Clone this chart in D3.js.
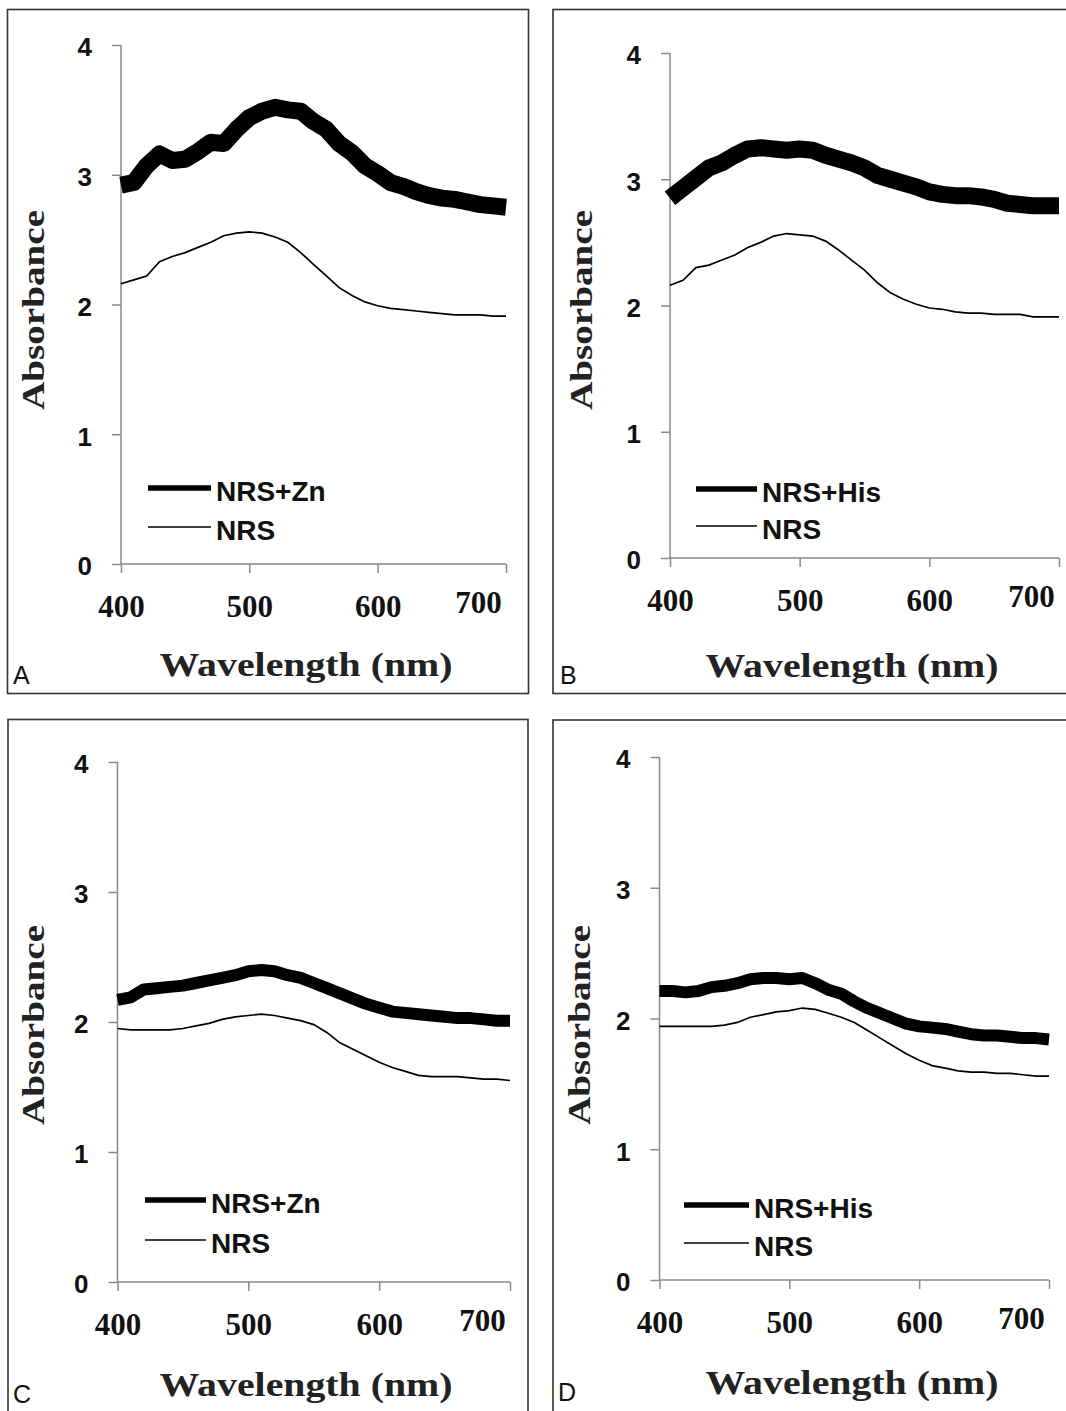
<!DOCTYPE html>
<html>
<head>
<meta charset="utf-8">
<script src="https://cdn.jsdelivr.net/npm/d3@7"></script>
<style>
  body { margin: 0; background: #fff; }
  svg { display: block; }
</style>
</head>
<body>
<script>
// wavelengths (nm) shared by every spectrum
var wavelengths = [400, 410, 420, 430, 440, 450, 460, 470, 480, 490, 500,
                   510, 520, 530, 540, 550, 560, 570, 580, 590, 600,
                   610, 620, 630, 640, 650, 660, 670, 680, 690, 700];
var xTicks = [400, 500, 600, 700];
var yTicks = [0, 1, 2, 3, 4];

// panel A: NRS + Zn vs NRS
var zincA = [2.92, 2.94, 3.07, 3.16, 3.11, 3.12, 3.18, 3.25, 3.24, 3.35, 3.44,
             3.49, 3.52, 3.50, 3.49, 3.41, 3.35, 3.24, 3.17, 3.07, 3.01,
             2.94, 2.91, 2.87, 2.84, 2.82, 2.81, 2.79, 2.77, 2.76, 2.75];
var nrsA = [2.16, 2.19, 2.22, 2.33, 2.37, 2.40, 2.44, 2.48, 2.53, 2.55, 2.56,
            2.55, 2.52, 2.48, 2.40, 2.31, 2.22, 2.13, 2.07, 2.02, 1.99,
            1.97, 1.96, 1.95, 1.94, 1.93, 1.92, 1.92, 1.92, 1.91, 1.91];

// panel B: NRS + His vs NRS
var hisB = [2.85, 2.93, 3.01, 3.09, 3.13, 3.19, 3.24, 3.25, 3.24, 3.23, 3.24,
            3.23, 3.19, 3.16, 3.13, 3.09, 3.03, 3.00, 2.97, 2.94, 2.90,
            2.88, 2.87, 2.87, 2.86, 2.84, 2.81, 2.80, 2.79, 2.79, 2.79];
var nrsB = [2.16, 2.20, 2.30, 2.32, 2.36, 2.40, 2.46, 2.50, 2.55, 2.57, 2.56,
            2.55, 2.51, 2.44, 2.36, 2.28, 2.18, 2.10, 2.05, 2.01, 1.98,
            1.97, 1.95, 1.94, 1.94, 1.93, 1.93, 1.93, 1.91, 1.91, 1.91];

// panel C: NRS + Zn vs NRS
var zincC = [2.17, 2.19, 2.25, 2.26, 2.27, 2.28, 2.30, 2.32, 2.34, 2.36, 2.39,
             2.40, 2.39, 2.36, 2.34, 2.30, 2.26, 2.22, 2.18, 2.14, 2.11,
             2.08, 2.07, 2.06, 2.05, 2.04, 2.03, 2.03, 2.02, 2.01, 2.01];
var nrsC = [1.95, 1.94, 1.94, 1.94, 1.94, 1.95, 1.97, 1.99, 2.02, 2.04, 2.05,
            2.06, 2.05, 2.03, 2.01, 1.98, 1.92, 1.84, 1.79, 1.74, 1.69,
            1.65, 1.62, 1.59, 1.58, 1.58, 1.58, 1.57, 1.56, 1.56, 1.55];

// panel D: NRS + His vs NRS
var hisD = [2.21, 2.21, 2.20, 2.21, 2.24, 2.25, 2.27, 2.30, 2.31, 2.31, 2.30,
            2.31, 2.27, 2.22, 2.19, 2.13, 2.08, 2.04, 2.00, 1.96, 1.94,
            1.93, 1.92, 1.90, 1.88, 1.87, 1.87, 1.86, 1.85, 1.85, 1.84];
var nrsD = [1.94, 1.94, 1.94, 1.94, 1.94, 1.95, 1.97, 2.01, 2.03, 2.05, 2.06,
            2.08, 2.07, 2.04, 2.01, 1.97, 1.91, 1.85, 1.79, 1.73, 1.68,
            1.64, 1.62, 1.60, 1.59, 1.59, 1.58, 1.58, 1.57, 1.56, 1.56];

var panelLetters = ["A", "B", "C", "D"];
var treatedNames = ["NRS+Zn", "NRS+His", "NRS+Zn", "NRS+His"];
var controlName = "NRS";
var xTitle = "Wavelength (nm)";
var yTitle = "Absorbance";

// layout of the four boxes (pixel positions only)
var layout = [
    { frame: [7.5, 9.5, 521, 684], plot: [121, 506, 45, 564], xt: [306, 676], yt: [44, 310],
      leg: [148, 211, 488, 527], letter: [13, 684], thick: 17, treated: zincA, control: nrsA },
    { frame: [553, 9.5, 520, 684], plot: [670, 1059, 53, 558], xt: [852, 677], yt: [592, 310],
      leg: [696, 757, 489, 526], letter: [560, 684], thick: 17, treated: hisB, control: nrsB },
    { frame: [8, 719.5, 520, 700], plot: [117.5, 510, 762, 1282], xt: [306, 1396], yt: [44, 1025],
      leg: [145, 206, 1200, 1240], letter: [13, 1403], thick: 12, treated: zincC, control: nrsC },
    { frame: [553, 720, 520, 700], plot: [659.5, 1049, 757, 1280], xt: [852, 1394], yt: [590, 1025],
      leg: [684, 749, 1205, 1243], letter: [558, 1401], thick: 12, treated: hisD, control: nrsD }
];

var svg = d3.select("body")
    .append("svg")
    .attr("width", 1066)
    .attr("height", 1411);

layout.forEach(function (p, i) {
    var g = svg.append("g");

    // outer box
    g.append("rect")
        .attr("x", p.frame[0]).attr("y", p.frame[1])
        .attr("width", p.frame[2]).attr("height", p.frame[3])
        .attr("fill", "none")
        .attr("stroke", "#333")
        .attr("stroke-width", 1.6);

    var x = d3.scaleLinear().domain([400, 700]).range([p.plot[0], p.plot[1]]);
    var y = d3.scaleLinear().domain([0, 4]).range([p.plot[3], p.plot[2]]);

    // y axis
    var yAxis = g.append("g")
        .attr("transform", "translate(" + p.plot[0] + ",0)")
        .call(d3.axisLeft(y).tickValues(yTicks).tickSize(9).tickPadding(20).tickFormat(d3.format("d")));
    yAxis.selectAll("path, line").attr("stroke", "#8a8a8a").attr("stroke-width", 1.5);
    yAxis.select(".domain").attr("d", "M0," + p.plot[2] + "V" + p.plot[3]);
    yAxis.selectAll("text")
        .attr("dy", "0.42em")
        .style("font-family", "'Liberation Sans', Arial, sans-serif")
        .style("font-weight", "bold")
        .style("font-size", "26px")
        .attr("fill", "#111");

    // x axis
    var xAxis = g.append("g")
        .attr("transform", "translate(0," + p.plot[3] + ")")
        .call(d3.axisBottom(x).tickValues(xTicks).tickSize(9).tickPadding(22).tickFormat(d3.format("d")));
    xAxis.selectAll("path, line").attr("stroke", "#8a8a8a").attr("stroke-width", 1.5);
    xAxis.select(".domain").attr("d", "M" + p.plot[0] + ",0H" + p.plot[1]);
    xAxis.selectAll("text")
        .attr("dy", "0.71em")
        .style("font-family", "'Liberation Serif', 'Times New Roman', serif")
        .style("font-weight", "bold")
        .style("font-size", "31px")
        .attr("fill", "#111");
    // the last label sits pulled in from the box edge
    xAxis.selectAll(".tick")
        .filter(function (d) { return d === 700; })
        .select("text")
        .attr("x", -28)
        .attr("y", 27);

    // axis titles
    g.append("text")
        .attr("x", p.xt[0]).attr("y", p.xt[1])
        .attr("text-anchor", "middle")
        .attr("textLength", 293)
        .attr("lengthAdjust", "spacingAndGlyphs")
        .style("font-family", "'Liberation Serif', 'Times New Roman', serif")
        .style("font-weight", "bold")
        .style("font-size", "34px")
        .attr("fill", "#222")
        .text(xTitle);

    g.append("text")
        .attr("transform", "translate(" + p.yt[0] + "," + p.yt[1] + ") rotate(-90)")
        .attr("text-anchor", "middle")
        .attr("textLength", 200)
        .attr("lengthAdjust", "spacingAndGlyphs")
        .style("font-family", "'Liberation Serif', 'Times New Roman', serif")
        .style("font-weight", "bold")
        .style("font-size", "32px")
        .attr("fill", "#222")
        .text(yTitle);

    // spectra
    var line = d3.line()
        .x(function (d, j) { return x(wavelengths[j]); })
        .y(function (d) { return y(d); });

    g.append("path")
        .datum(p.control)
        .attr("d", line)
        .attr("fill", "none")
        .attr("stroke", "#000")
        .attr("stroke-width", 1.7);

    g.append("path")
        .datum(p.treated)
        .attr("d", line)
        .attr("fill", "none")
        .attr("stroke", "#000")
        .attr("stroke-width", p.thick)
        .attr("stroke-linejoin", "round");

    // legend
    var legend = g.append("g");
    [[treatedNames[i], 5.5, p.leg[2]], [controlName, 1.6, p.leg[3]]].forEach(function (row) {
        legend.append("line")
            .attr("x1", p.leg[0]).attr("x2", p.leg[1])
            .attr("y1", row[2]).attr("y2", row[2])
            .attr("stroke", "#000")
            .attr("stroke-width", row[1]);
        legend.append("text")
            .attr("x", p.leg[1] + 5)
            .attr("y", row[2] + 13)
            .style("font-family", "'Liberation Sans', Arial, sans-serif")
            .style("font-weight", "bold")
            .style("font-size", "28px")
            .attr("fill", "#111")
            .text(row[0]);
    });

    // panel letter
    g.append("text")
        .attr("x", p.letter[0]).attr("y", p.letter[1])
        .style("font-family", "'Liberation Sans', Arial, sans-serif")
        .style("font-size", "25px")
        .attr("fill", "#111")
        .text(panelLetters[i]);
});
</script>
</body>
</html>
